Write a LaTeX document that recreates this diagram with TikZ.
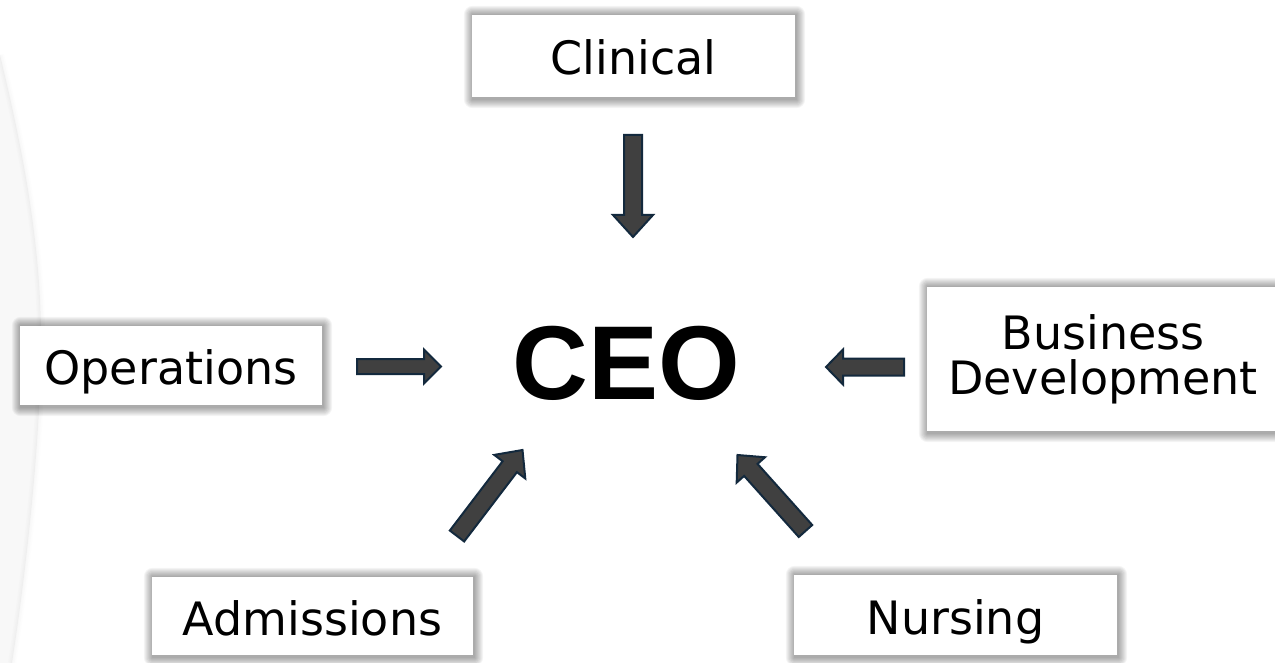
\documentclass[tikz,border=0pt]{standalone}
\usepackage{fontspec}
\setmainfont{DejaVu Sans}
\newfontfamily\ceofont{Liberation Sans}
\usetikzlibrary{calc,backgrounds}

\definecolor{arrowfill}{HTML}{404040}
\definecolor{arrowline}{HTML}{13293D}
\definecolor{sidetone}{HTML}{F8F8F8}

\tikzset{
  dept/.style={fill=white, inner sep=0pt, align=center,
    font=\fontsize{46}{46}\selectfont},
  oneline/.style={text height=38pt, text depth=0pt},
  glow/.style={fill=black, opacity=0.045},
  arrowbody/.style={fill=arrowfill, draw=arrowline, line width=2pt, line join=miter},
  chief/.style={font=\ceofont\bfseries\fontsize{105}{105}\selectfont, inner sep=0pt}
}

% block arrow: tail, tip, shaft half-width, head half-width, head length (pt)
\newcommand\blockarrow[5]{%
  \coordinate (hb) at ($(#2)!#5pt!(#1)$);
  \draw[arrowbody]
    ($(#1)!#3pt!90:(#2)$) -- ($(hb)!#3pt!90:(#2)$) --
    ($(hb)!#4pt!90:(#2)$) -- (#2) --
    ($(hb)!#4pt!-90:(#2)$) -- ($(hb)!#3pt!-90:(#2)$) --
    ($(#1)!#3pt!-90:(#2)$) -- cycle;
}

% soft grey halo behind a box node
\newcommand\halo[1]{%
  \begin{scope}[on background layer]
    \foreach \k in {1,...,9}{
      \fill[glow, rounded corners=\k pt]
        ($(#1.south west)+(-\k+1,\k+2)$) rectangle ($(#1.north east)+(\k+1,-\k+0)$);
    }
  \end{scope}%
}

\begin{document}
\begin{tikzpicture}[x=1pt, y=-1pt]
\useasboundingbox (0,0) rectangle (1275,663);

% departments
\node[dept, oneline, minimum width=323pt, minimum height=82pt] (clin) at (633.5,56) {Clinical};
\node[dept, oneline, minimum width=302pt, minimum height=79pt] (ops) at (171,365.5) {Operations};
\node[dept, minimum width=352pt, minimum height=144pt] (bus) at (1103,359) {Business\\[-1pt]Development};
\node[dept, oneline, minimum width=321pt, minimum height=78pt] (adm) at (312.5,616) {Admissions};
\node[dept, oneline, minimum width=323pt, minimum height=80pt] (nur) at (955.5,615) {Nursing};

% soft curved panel along the left edge, beneath everything
\begin{scope}[on background layer]
\fill[sidetone] (0,55) .. controls (28,170) and (42,260) .. (41,350)
  .. controls (40,450) and (25,580) .. (12,663) -- (0,663) -- cycle;
\foreach \w in {8,5,2}{
  \draw[gray, line width=\w pt, opacity=0.02]
    (0,55) .. controls (28,170) and (42,260) .. (41,350)
    .. controls (40,450) and (25,580) .. (12,663);
}
\end{scope}

\foreach \n in {clin,ops,bus,adm,nur}{\halo{\n}}

% centre
\node[chief, anchor=base] (ceo) at (626,399) {CEO};

% arrow end points
\coordinate (clinT) at (633,135);   \coordinate (clinP) at (633,237);
\coordinate (opsT)  at (357,366.5); \coordinate (opsP)  at (441,366.5);
\coordinate (busT)  at (904,367);   \coordinate (busP)  at (826,367);
\coordinate (admT)  at (457,536);   \coordinate (admP)  at (522.5,450);
\coordinate (nurT)  at (805.5,531); \coordinate (nurP)  at (737.5,455);

\blockarrow{clinT}{clinP}{9}{20}{22}
\blockarrow{opsT}{opsP}{7.5}{17}{17}
\blockarrow{busT}{busP}{8.5}{17.5}{17}
\blockarrow{admT}{admP}{9}{19.5}{21}
\blockarrow{nurT}{nurP}{9}{19}{20}
\end{tikzpicture}
\end{document}
